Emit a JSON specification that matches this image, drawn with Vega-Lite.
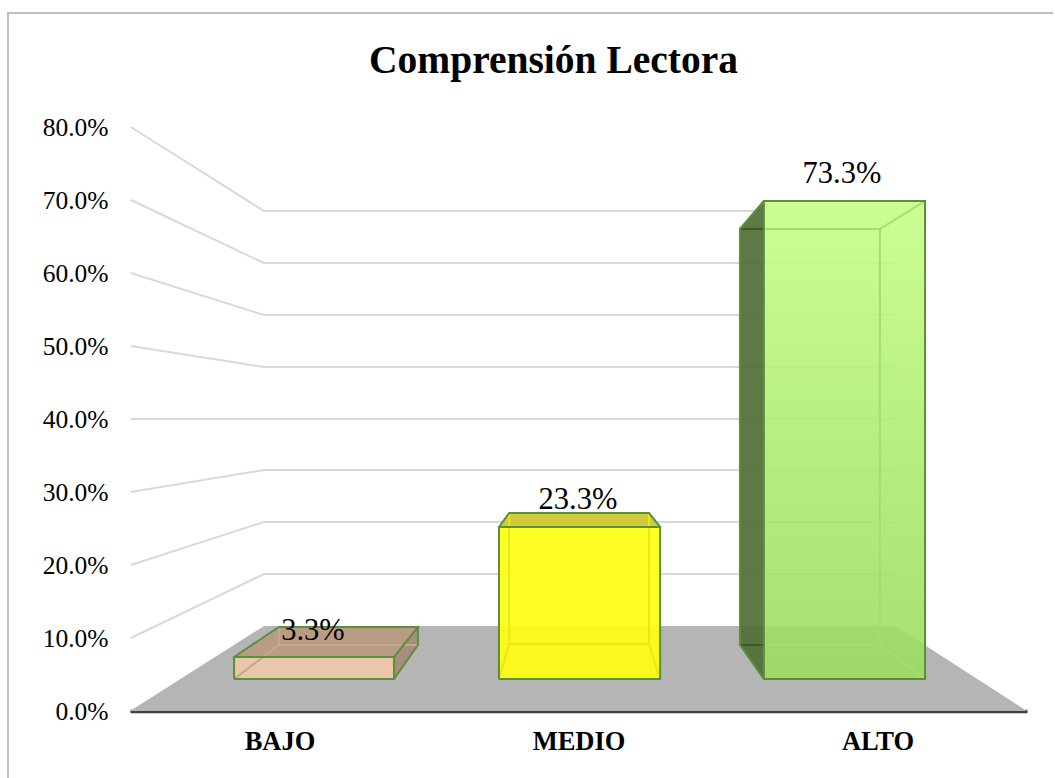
{
"$schema":"https://vega.github.io/schema/vega-lite/v6.json",
"width":897,"height":584,
"autosize":{"type":"none"},
"padding":{"left":130,"top":127,"right":28,"bottom":67},
"background":"white",
"config":{"view":{"stroke":null},"font":"Liberation Serif"},
"title":{"text":"Comprensión Lectora","font":"Liberation Serif","fontSize":39.5,"fontWeight":"bold","color":"#000000","anchor":"middle","dx":-25,"offset":-72},
"resolve":{"scale":{"color":"independent"}},
"datasets":{
"frame":[{"x":-0.408,"y":-9.18,"i":0},{"x":-0.408,"y":95.6,"i":1},{"x":3.087,"y":95.6,"i":2}],
"floor":[{"x":0,"top":0,"bottom":0},{"x":0.448,"top":11.64,"bottom":0},{"x":2.559,"top":11.64,"bottom":0},{"x":3,"top":0,"bottom":0}],
"grid":[
{"line":"80","x":0.003,"y":80,"i":0},{"line":"80","x":0.448,"y":68.49,"i":1},{"line":"80","x":2.559,"y":68.49,"i":2},
{"line":"70","x":0.003,"y":70,"i":0},{"line":"70","x":0.448,"y":61.37,"i":1},{"line":"70","x":2.559,"y":61.37,"i":2},
{"line":"60","x":0.003,"y":60,"i":0},{"line":"60","x":0.448,"y":54.25,"i":1},{"line":"60","x":2.559,"y":54.25,"i":2},
{"line":"50","x":0.003,"y":50,"i":0},{"line":"50","x":0.448,"y":47.12,"i":1},{"line":"50","x":2.559,"y":47.12,"i":2},
{"line":"40","x":0.003,"y":40,"i":0},{"line":"40","x":0.448,"y":40,"i":1},{"line":"40","x":2.559,"y":40,"i":2},
{"line":"30","x":0.003,"y":30,"i":0},{"line":"30","x":0.448,"y":33.01,"i":1},{"line":"30","x":2.559,"y":33.01,"i":2},
{"line":"20","x":0.003,"y":20,"i":0},{"line":"20","x":0.448,"y":25.89,"i":1},{"line":"20","x":2.559,"y":25.89,"i":2},
{"line":"10","x":0.003,"y":10,"i":0},{"line":"10","x":0.448,"y":18.77,"i":1},{"line":"10","x":2.559,"y":18.77,"i":2}
],
"faces":[
{"face":"BAJO top","x":0.348,"top":7.4,"bottom":7.4},{"face":"BAJO top","x":0.498,"top":11.51,"bottom":7.4},{"face":"BAJO top","x":0.883,"top":11.51,"bottom":7.4},{"face":"BAJO top","x":0.963,"top":11.51,"bottom":11.51},
{"face":"BAJO side","x":0.883,"top":7.4,"bottom":4.38},{"face":"BAJO side","x":0.963,"top":11.51,"bottom":9.04},
{"face":"BAJO front","x":0.348,"top":7.4,"bottom":4.38},{"face":"BAJO front","x":0.883,"top":7.4,"bottom":4.38},
{"face":"MEDIO top","x":1.234,"top":25.21,"bottom":25.21},{"face":"MEDIO top","x":1.268,"top":27.12,"bottom":25.21},{"face":"MEDIO top","x":1.736,"top":27.12,"bottom":25.21},{"face":"MEDIO top","x":1.773,"top":25.21,"bottom":25.21},
{"face":"MEDIO front","x":1.234,"top":25.21,"bottom":4.38},{"face":"MEDIO front","x":1.773,"top":25.21,"bottom":4.38},
{"face":"ALTO side","x":2.04,"top":66.03,"bottom":9.04},{"face":"ALTO side","x":2.12,"top":69.86,"bottom":4.38}
],
"altoFront":[{"x":2.12,"top":69.86,"bottom":4.38},{"x":2.659,"top":69.86,"bottom":4.38}],
"edges":[
{"edge":"d1","tone":"innerD","x":2.04,"y":66.03,"i":0},{"edge":"d1","tone":"innerD","x":2.12,"y":66.03,"i":1},
{"edge":"d2","tone":"innerD","x":2.04,"y":9.04,"i":0},{"edge":"d2","tone":"innerD","x":2.12,"y":9.04,"i":1},
{"edge":"a1","tone":"inner","x":2.12,"y":66.03,"i":0},{"edge":"a1","tone":"inner","x":2.508,"y":66.03,"i":1},{"edge":"a1","tone":"inner","x":2.659,"y":69.86,"i":2},
{"edge":"a2","tone":"inner","x":2.508,"y":66.03,"i":0},{"edge":"a2","tone":"inner","x":2.508,"y":9.04,"i":1},
{"edge":"a3","tone":"inner","x":2.12,"y":9.04,"i":0},{"edge":"a3","tone":"inner","x":2.508,"y":9.04,"i":1},{"edge":"a3","tone":"inner","x":2.659,"y":4.38,"i":2},
{"edge":"m1","tone":"innerY","x":1.268,"y":27.12,"i":0},{"edge":"m1","tone":"innerY","x":1.268,"y":9.18,"i":1},{"edge":"m1","tone":"innerY","x":1.736,"y":9.18,"i":2},{"edge":"m1","tone":"innerY","x":1.736,"y":27.12,"i":3},
{"edge":"m2","tone":"innerY","x":1.234,"y":4.38,"i":0},{"edge":"m2","tone":"innerY","x":1.268,"y":9.18,"i":1},
{"edge":"m3","tone":"innerY","x":1.773,"y":4.38,"i":0},{"edge":"m3","tone":"innerY","x":1.736,"y":9.18,"i":1},
{"edge":"b1","tone":"innerB","x":0.348,"y":4.38,"i":0},{"edge":"b1","tone":"innerB","x":0.498,"y":9.04,"i":1},{"edge":"b1","tone":"innerB","x":0.963,"y":9.04,"i":2},
{"edge":"b2","tone":"innerB","x":0.498,"y":9.04,"i":0},{"edge":"b2","tone":"innerB","x":0.498,"y":11.51,"i":1},
{"edge":"A1","tone":"outer","x":2.12,"y":4.38,"i":0},{"edge":"A1","tone":"outer","x":2.12,"y":69.86,"i":1},{"edge":"A1","tone":"outer","x":2.659,"y":69.86,"i":2},{"edge":"A1","tone":"outer","x":2.659,"y":4.38,"i":3},{"edge":"A1","tone":"outer","x":2.12,"y":4.38,"i":4},{"edge":"A1","tone":"outer","x":2.04,"y":9.04,"i":5},{"edge":"A1","tone":"outer","x":2.04,"y":66.03,"i":6},{"edge":"A1","tone":"outer","x":2.12,"y":69.86,"i":7},
{"edge":"M1","tone":"outer","x":1.234,"y":4.38,"i":0},{"edge":"M1","tone":"outer","x":1.234,"y":25.21,"i":1},{"edge":"M1","tone":"outer","x":1.773,"y":25.21,"i":2},{"edge":"M1","tone":"outer","x":1.773,"y":4.38,"i":3},{"edge":"M1","tone":"outer","x":1.234,"y":4.38,"i":4},
{"edge":"M2","tone":"outer","x":1.234,"y":25.21,"i":0},{"edge":"M2","tone":"outer","x":1.268,"y":27.12,"i":1},{"edge":"M2","tone":"outer","x":1.736,"y":27.12,"i":2},{"edge":"M2","tone":"outer","x":1.773,"y":25.21,"i":3},
{"edge":"B1","tone":"outer","x":0.348,"y":4.38,"i":0},{"edge":"B1","tone":"outer","x":0.348,"y":7.4,"i":1},{"edge":"B1","tone":"outer","x":0.883,"y":7.4,"i":2},{"edge":"B1","tone":"outer","x":0.883,"y":4.38,"i":3},{"edge":"B1","tone":"outer","x":0.348,"y":4.38,"i":4},
{"edge":"B2","tone":"outer","x":0.348,"y":7.4,"i":0},{"edge":"B2","tone":"outer","x":0.498,"y":11.51,"i":1},{"edge":"B2","tone":"outer","x":0.963,"y":11.51,"i":2},{"edge":"B2","tone":"outer","x":0.883,"y":7.4,"i":3},
{"edge":"B3","tone":"outer","x":0.963,"y":11.51,"i":0},{"edge":"B3","tone":"outer","x":0.963,"y":9.04,"i":1},{"edge":"B3","tone":"outer","x":0.883,"y":4.38,"i":2}
],
"labels":[
{"category":"BAJO","value":0.033,"x":0.612,"y":9.73},
{"category":"MEDIO","value":0.233,"x":1.498,"y":27.67},
{"category":"ALTO","value":0.733,"x":2.381,"y":72.33}
]
},
"encoding":{
"x":{"field":"x","type":"quantitative","title":null,"scale":{"domain":[0,3],"nice":false,"zero":false},
 "axis":{"values":[0.5,1.5,2.5],"labelExpr":"datum.value==0.5?'BAJO':datum.value==1.5?'MEDIO':'ALTO'","grid":false,"ticks":false,"domain":true,"domainColor":"#404040","domainWidth":3.5,"labelFont":"Liberation Serif","labelFontWeight":"bold","labelFontSize":26.5,"labelColor":"#000000","labelPadding":38,"labelBaseline":"alphabetic"}},
"y":{"type":"quantitative","title":null,"scale":{"domain":[0,80],"nice":false,"zero":false},
 "axis":{"values":[0,10,20,30,40,50,60,70,80],"labelExpr":"format(datum.value,'.1f')+'%'","grid":false,"ticks":false,"domain":false,"labelFont":"Liberation Serif","labelFontSize":25.5,"labelColor":"#000000","labelPadding":22}}
},
"layer":[
{"data":{"name":"frame"},"mark":{"type":"line","color":"#bfbfbf","strokeWidth":2},"encoding":{"y":{"field":"y"},"order":{"field":"i"}}},
{"data":{"name":"floor"},"mark":{"type":"area","color":"#b5b5b5","orient":"vertical"},"encoding":{"y":{"field":"top"},"y2":{"field":"bottom"}}},
{"data":{"name":"grid"},"mark":{"type":"line","color":"#d9d9d9","strokeWidth":2},"encoding":{"y":{"field":"y"},"detail":{"field":"line"},"order":{"field":"i"}}},
{"data":{"name":"faces"},"mark":{"type":"area","orient":"vertical","opacity":0.92},"encoding":{"y":{"field":"top"},"y2":{"field":"bottom"},
 "color":{"field":"face","type":"nominal","legend":null,"scale":{"domain":["BAJO top","BAJO side","BAJO front","MEDIO top","MEDIO front","ALTO side"],"range":["#b89a82","#a68b77","#efc8aa","#cdc62a","#ffff10","#4f6e36"]}}}},
{"data":{"name":"altoFront"},"mark":{"type":"area","orient":"vertical","opacity":0.9,"color":{"gradient":"linear","x1":0,"x2":0,"y1":0,"y2":1,"stops":[{"offset":0,"color":"#c6fd88"},{"offset":1,"color":"#9bdc5f"}]}},"encoding":{"y":{"field":"top"},"y2":{"field":"bottom"}}},
{"data":{"name":"edges"},"mark":{"type":"line","strokeWidth":2},"encoding":{"y":{"field":"y"},"detail":{"field":"edge"},"order":{"field":"i"},
 "color":{"field":"tone","type":"nominal","legend":null,"scale":{"domain":["inner","innerY","innerB","innerD","outer"],"range":["#a3df6c","#e9e71c","#c9a78e","#3f5a2a","#5b8f3a"]}}}},
{"data":{"name":"labels"},"mark":{"type":"text","font":"Liberation Serif","fontSize":30.5,"color":"#000000","baseline":"alphabetic","align":"center"},"encoding":{"y":{"field":"y"},"text":{"field":"value","type":"quantitative","format":".1%"}}}
]
}
